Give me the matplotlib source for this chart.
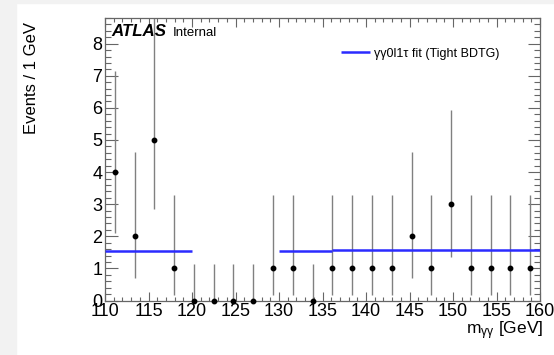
import numpy as np
import matplotlib
matplotlib.use("Agg")
import matplotlib.pyplot as plt
from matplotlib.patches import Rectangle
from matplotlib.ticker import MultipleLocator

plt.rcParams['font.family'] = ['Liberation Sans', 'DejaVu Sans']
plt.rcParams['mathtext.fontset'] = 'custom'
plt.rcParams['mathtext.rm'] = 'Liberation Sans'
plt.rcParams['mathtext.it'] = 'Liberation Sans'

# ---- data ----
bin_centers = [111.14, 113.41, 115.68, 117.95, 120.23, 122.50, 124.77, 127.05,
               129.32, 131.59, 133.86, 136.14, 138.41, 140.68, 142.95, 145.23,
               147.50, 149.77, 152.05, 154.32, 156.59, 158.86]
counts      = [4, 2, 5, 1, 0, 0, 0, 0, 1, 1, 0, 1, 1, 1, 1, 2, 1, 3, 1, 1, 1, 1]
# asymmetric Poisson error bar ends
err_low_end  = [2.09, 0.71, 2.84, 0.17, 0.0, 0.0, 0.0, 0.0, 0.17, 0.17, 0.0, 0.17,
                0.17, 0.17, 0.17, 0.71, 0.17, 1.37, 0.17, 0.17, 0.17, 0.17]
err_high_end = [7.16, 4.64, 8.90, 3.30, 1.15, 1.15, 1.15, 1.15, 3.30, 3.30, 1.15, 3.30,
                3.30, 3.30, 3.30, 4.64, 3.30, 5.92, 3.30, 3.30, 3.30, 3.30]

fit_start = [110.0, 130.0, 136.14]
fit_end   = [120.0, 136.14, 160.0]
fit_value = [1.53, 1.53, 1.56]
fit_label = "γγ0l1τ fit (Tight BDTG)"

W, H = 554, 355
fig = plt.figure(figsize=(W / 100, H / 100), dpi=100)

# screenshot-like grey borders
fig.patches.append(Rectangle((0, 0), 16 / W, 1, transform=fig.transFigure,
                             color='#f2f2f2', zorder=0))
fig.patches.append(Rectangle((0, 1 - 3 / H), 1, 3 / H, transform=fig.transFigure,
                             color='#f2f2f2', zorder=0))

ax = fig.add_axes([105 / W, (H - 300.5) / H, 435 / W, 282.5 / H])

x = np.array(bin_centers)
y = np.array(counts)
lo = y - np.array(err_low_end)
hi = np.array(err_high_end) - y

ax.errorbar(x, y, yerr=[lo, hi], fmt='none', ecolor='#808080', elinewidth=1.0,
            capsize=0, zorder=2, clip_on=True)
ax.plot(x, y, 'o', color='black', markersize=3.2, zorder=4, clip_on=False)

lines = ax.hlines(fit_value, fit_start, fit_end, colors='#2b2bff', linewidth=1.8,
                  zorder=3)

ax.set_xlim(110, 160)
ax.set_ylim(0, 8.8)

ax.xaxis.set_major_locator(MultipleLocator(5))
ax.xaxis.set_minor_locator(MultipleLocator(1))
ax.yaxis.set_major_locator(MultipleLocator(1))
ax.yaxis.set_minor_locator(MultipleLocator(0.2))

axc = '#666666'
for sp in ax.spines.values():
    sp.set_color(axc)
    sp.set_linewidth(0.9)
ax.tick_params(axis='both', which='both', direction='in', top=True, right=True,
               color=axc, width=0.8, labelsize=13)
ax.tick_params(axis='x', which='major', length=6.5, pad=1.5)
ax.tick_params(axis='x', which='minor', length=3.2)
ax.tick_params(axis='y', which='major', length=9, pad=2)
ax.tick_params(axis='y', which='minor', length=4.5)

fig.text(32 / W, 1 - 22 / H, "Events / 1 GeV", rotation=90, ha='center', va='top',
         fontsize=12)
fig.text(543 / W, 1 - 331 / H, r"m$_{\mathrm{γγ}}$ [GeV]", ha='right', va='center',
         fontsize=12.5)

fig.text(111 / W, 1 - 36.5 / H, "ATLAS", fontsize=12.2, fontweight='bold',
         fontstyle='italic', va='baseline', ha='left')
fig.text(172.5 / W, 1 - 36.5 / H, "Internal", fontsize=9.5, va='baseline', ha='left')

ax.legend([lines], [fit_label], loc='center left',
          bbox_to_anchor=(341 / W, 1 - 53.5 / H), bbox_transform=fig.transFigure,
          frameon=False, fontsize=9, borderpad=0, borderaxespad=0,
          handlelength=2.3, handletextpad=0.35)

fig.savefig("out.png", dpi=100)
